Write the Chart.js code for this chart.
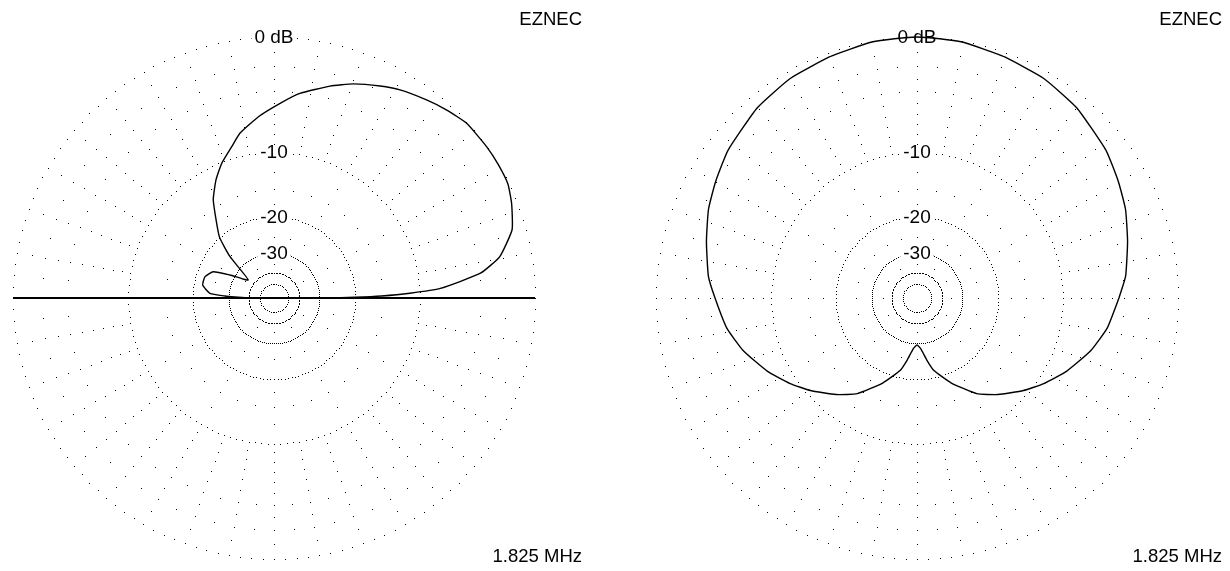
<!DOCTYPE html>
<html><head><meta charset="utf-8">
<script src="https://cdn.jsdelivr.net/npm/chart.js@4"></script>
<style>
html,body{margin:0;padding:0;background:#fff;}
body{width:1230px;height:571px;overflow:hidden;position:relative;}
#c1{position:absolute;left:0;top:0;}
#c2{position:absolute;left:643px;top:0;}
</style></head><body>
<canvas id="c1"></canvas>
<canvas id="c2"></canvas>
<script>
// ---- data (angles in degrees, counter-clockwise from the right; gain in dB) ----
const elevAngles = [0, 0.5, 1.06, 2, 3.3, 6.84, 10.4, 16, 21.7, 26, 30.8, 35.4, 42.2, 47.4, 52.4, 58.8, 63.4, 69.7, 75.2, 82.8, 88.2, 94.9, 101.7, 105.6, 111.2, 116.2, 121.8, 131.7, 136.8, 145, 152.4, 156.6, 162.8, 169.7, 175.8, 177.7, 178.5, 180];
const elevGain   = [-27.7, -20, -15.2, -11.2, -7.7, -3.9, -2.2, -0.9, -0.35, -0.05, 0, 0, -0.06, -0.38, -0.74, -1.21, -1.65, -2.3, -3.0, -4.04, -5.02, -6.19, -7.54, -8.71, -10.15, -11.77, -14.03, -19.83, -25.15, -36.3, -28.5, -23.55, -22.05, -21.99, -24.07, -28.7, -32.6, -40];
const groundAngles = [0, 180];

const azAngles = [0, 6, 15, 23, 30, 38, 50, 60, 70, 75, 80, 85, 90, 95, 100, 105, 110, 120, 130, 142, 150, 157, 165, 174, 180, 189, 197, 206, 214, 221, 230, 238, 248, 257, 261, 266, 270, 274, 279, 283, 292, 302, 310, 319, 326, 334, 343, 351, 360];
const azGain   = [-4.4, -3.75, -3.09, -2.43, -1.98, -1.45, -0.85, -0.5, -0.3, -0.22, -0.07, -0.05, 0, -0.05, -0.07, -0.22, -0.3, -0.5, -0.85, -1.45, -1.98, -2.43, -3.09, -3.75, -4.4, -5.22, -6.25, -7.7, -9.17, -10.56, -12.5, -14.4, -17.95, -21.6, -24.45, -28.2, -29.4, -28.2, -24.45, -21.6, -17.95, -14.4, -12.5, -10.56, -9.17, -7.7, -6.25, -5.22, -4.4];

const ringLevels = [0, -10, -20, -30, -40, -50];
const ringLabels = ['0 dB', '-10', '-20', '-30'];
const minorRingLevels = [-2, -4, -6, -8, -15, -25];
const spokeDotLevels = [-1, -3, -5, -7, -9, -12.5, -17.5, -35];
const spokeAngles = [0, 10, 20, 30, 40, 50, 60, 70, 80, 90, 100, 110, 120, 130, 140, 150, 160, 170, 180, 190, 200, 210, 220, 230, 240, 250, 260, 270, 280, 290, 300, 310, 320, 330, 340, 350];
const brandText = 'EZNEC';
const freqText = '1.825 MHz';

// ARRL log scale: radius shrinks by 0.89 for every 2 dB
function rho(db){ return Math.pow(0.89, -db / 2); }
function toXY(angDeg, db){
  const r = rho(db), a = angDeg * Math.PI / 180;
  return {x: r * Math.cos(a), y: r * Math.sin(a)};
}

const FONT = '"Liberation Sans", Arial, sans-serif';

const gridPlugin = {
  id: 'ezgrid',
  beforeDatasetsDraw(chart, args, opts){
    const ctx = chart.ctx, xs = chart.scales.x, ys = chart.scales.y;
    const dot = (p) => ctx.fillRect(Math.round(xs.getPixelForValue(p.x)), Math.round(ys.getPixelForValue(p.y)), 1, 1);
    ctx.save();
    ctx.fillStyle = '#000';
    // main rings
    ringLevels.forEach((db) => {
      const step = db === -50 ? 8 : (db === -40 ? 3.6 : 2.5);
      for (let a = 0; a < 360; a += step) dot(toXY(a, db));
    });
    // minor rings
    minorRingLevels.forEach((db) => {
      const step = db >= -4 ? 5 : (db >= -15 ? 10 : 15);
      for (let a = 0; a < 360; a += step) dot(toXY(a, db));
    });
    // spokes
    spokeAngles.forEach((a) => spokeDotLevels.forEach((db) => {
      if (db < -10 && a % 30 !== 0) return;
      dot(toXY(a, db));
    }));
    // ring labels
    ctx.font = '19px ' + FONT;
    ctx.textAlign = 'center';
    ctx.textBaseline = 'middle';
    ringLabels.forEach((t, i) => {
      const p = toXY(90, ringLevels[i]);
      const px = xs.getPixelForValue(p.x), py = ys.getPixelForValue(p.y) + 1;
      const w = ctx.measureText(t).width;
      ctx.fillStyle = '#fff';
      ctx.fillRect(px - w / 2 - 3, py - 8, w + 6, 16);
      ctx.fillStyle = '#000';
      ctx.fillText(t, px, py);
    });
    ctx.restore();
  },
  afterDraw(chart, args, opts){
    const ctx = chart.ctx;
    ctx.save();
    ctx.fillStyle = '#000';
    ctx.font = '18.5px ' + FONT;
    ctx.textAlign = 'right';
    ctx.textBaseline = 'middle';
    ctx.fillText(brandText, opts.textRight, 20);
    ctx.fillText(freqText, opts.textRight, 557);
    ctx.restore();
  }
};

function makeChart(id, w, angles, gains, withGround, textRight){
  const canvas = document.getElementById(id);
  canvas.width = w; canvas.height = 571;
  canvas.style.width = w + 'px'; canvas.style.height = '571px';
  const datasets = [{
    data: angles.map((a, i) => toXY(a, gains[i])),
    showLine: true, borderColor: '#000', borderWidth: 1.4, pointRadius: 0,
    tension: 0.15, fill: false, clip: 6
  }];
  if (withGround) datasets.push({
    data: groundAngles.map((a) => toXY(a, 0)),
    showLine: true, borderColor: '#000', borderWidth: 2, pointRadius: 0, tension: 0, clip: 6
  });
  return new Chart(canvas, {
    type: 'scatter',
    data: {datasets},
    options: {
      responsive: false, animation: false, events: [],
      layout: {padding: {left: 13, top: 37, right: w - 13 - 522, bottom: 571 - 37 - 522}},
      scales: {
        x: {type: 'linear', min: -1, max: 1, display: false},
        y: {type: 'linear', min: -1, max: 1, display: false}
      },
      plugins: {legend: {display: false}, tooltip: {enabled: false}, ezgrid: {textRight}}
    },
    plugins: [gridPlugin]
  });
}

makeChart('c1', 640, elevAngles, elevGain, true, 582);
makeChart('c2', 587, azAngles, azGain, false, 579);
</script>
</body></html>
